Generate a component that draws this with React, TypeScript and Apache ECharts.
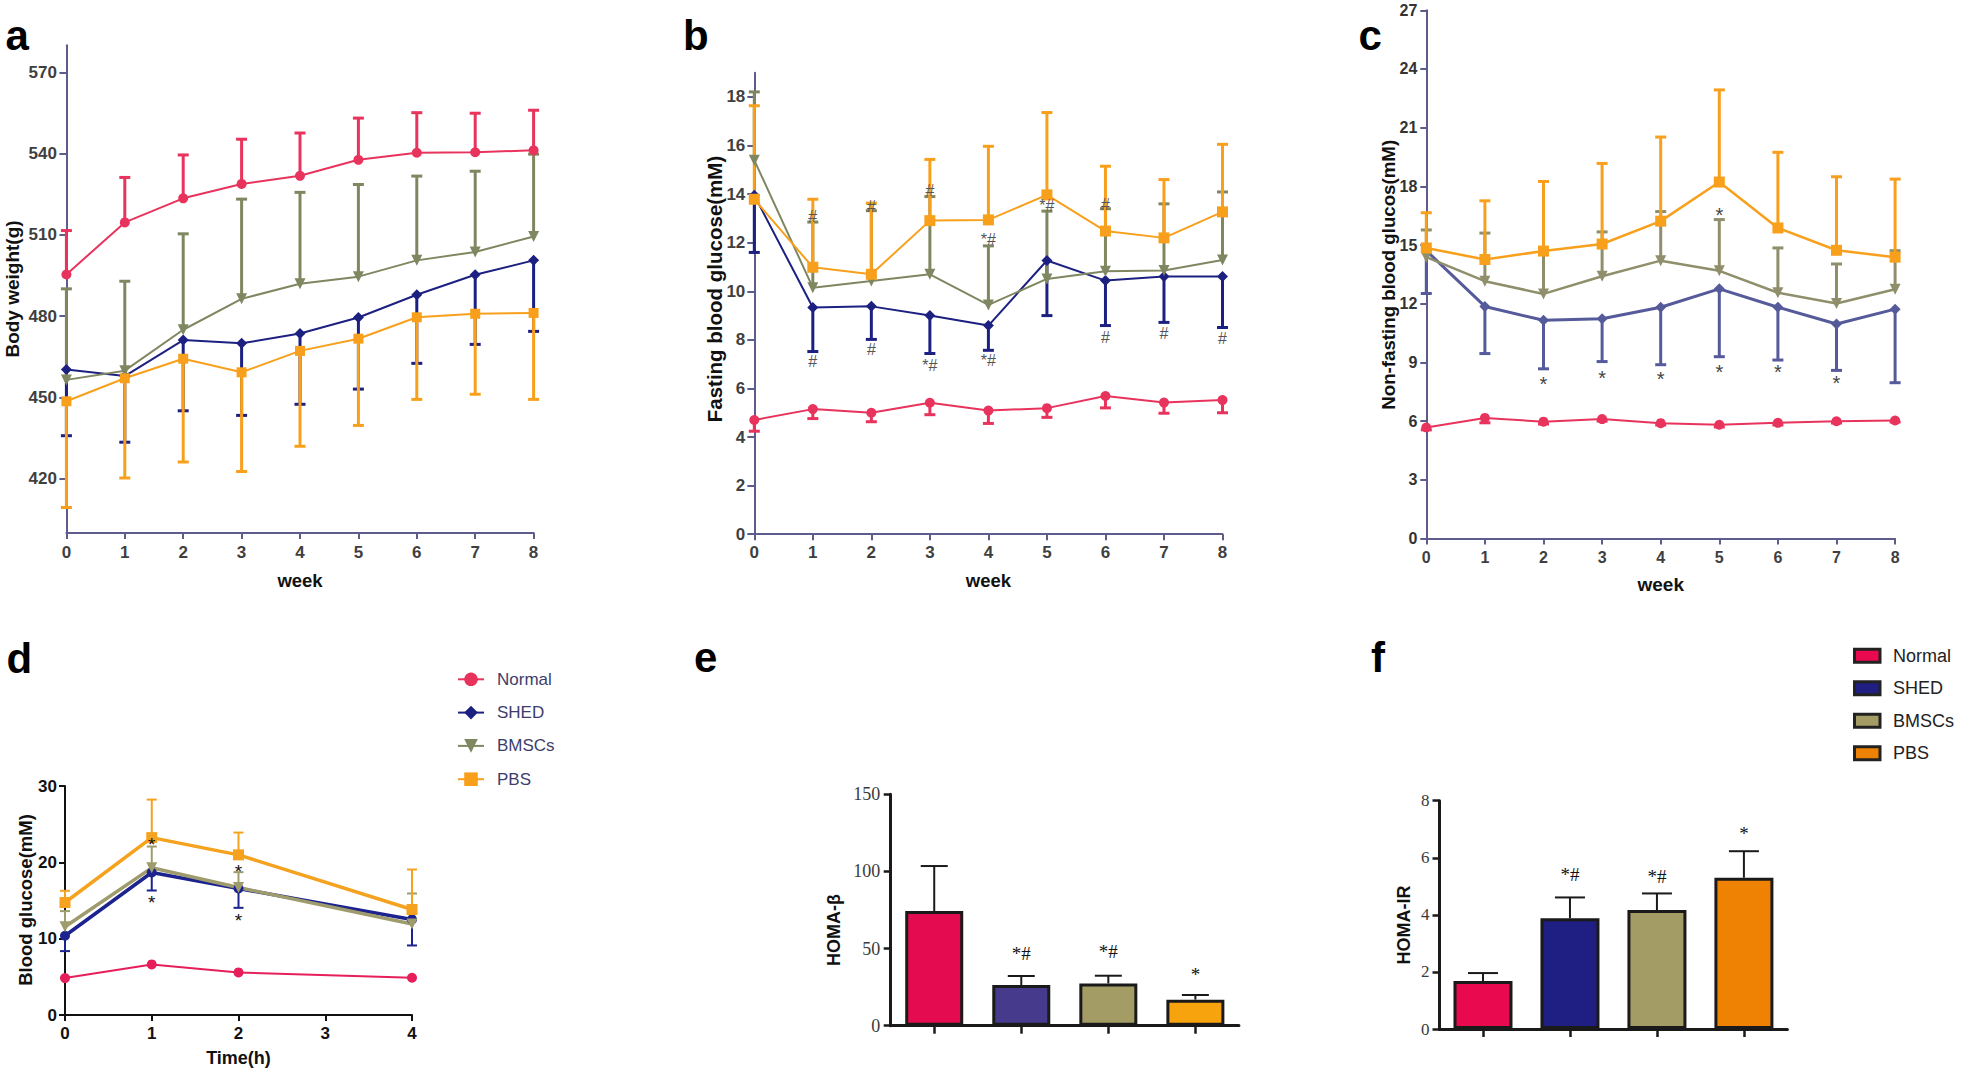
import React, { useEffect, useRef } from "react";
import * as echarts from "echarts";

const FONT = '"Liberation Sans", Arial, Helvetica, sans-serif';
const SERIF = '"Liberation Serif", "Times New Roman", serif';

const GROUPS = ["Normal", "SHED", "BMSCs", "PBS"];
const WEEKS = [0, 1, 2, 3, 4, 5, 6, 7, 8];
const HOURS = [0, 1, 2, 4];

// ---- Panel a: body weight (g)
const A_Y_TICKS = [420, 450, 480, 510, 540, 570];
const A_NORMAL = [495.4, 514.6, 523.5, 528.8, 531.8, 537.7, 540.3, 540.5, 541.2];
const A_NORMAL_ERR = [511.6, 531.2, 539.5, 545.3, 547.6, 553.1, 555.1, 554.9, 556.0];
const A_SHED = [460.3, 457.9, 471.2, 470.0, 473.6, 479.5, 487.9, 495.3, 500.6];
const A_SHED_ERR = [435.9, 433.5, 445.1, 443.4, 447.5, 453.1, 462.6, 469.6, 474.4];
const A_BMSC = [456.5, 459.9, 475.0, 486.4, 492.0, 494.6, 500.6, 503.7, 509.4];
const A_BMSC_ERR = [490.1, 492.9, 510.4, 523.2, 525.7, 528.6, 531.7, 533.5, 539.8];
const A_PBS = [448.6, 457.1, 464.3, 459.3, 467.2, 471.7, 479.6, 480.9, 481.2];
const A_PBS_ERR = [409.4, 420.3, 426.2, 422.7, 432.0, 439.7, 449.3, 451.2, 449.3];

// ---- Panel b: fasting blood glucose (mM)
const B_Y_TICKS = [0, 2, 4, 6, 8, 10, 12, 14, 16, 18];
const B_NORMAL = [4.7, 5.15, 5.0, 5.41, 5.09, 5.19, 5.69, 5.42, 5.52];
const B_NORMAL_ERR = [4.24, 4.76, 4.63, 4.92, 4.56, 4.81, 5.2, 4.98, 5.0];
const B_SHED = [13.95, 9.33, 9.38, 9.0, 8.59, 11.27, 10.44, 10.61, 10.61];
const B_SHED_ERR = [11.6, 7.52, 8.02, 7.44, 7.57, 9.0, 8.59, 8.72, 8.51];
const B_BMSC = [15.4, 10.15, 10.42, 10.7, 9.44, 10.51, 10.83, 10.86, 11.29];
const B_BMSC_ERR = [18.21, 12.85, 13.32, 13.9, 11.87, 13.3, 13.4, 13.6, 14.09];
const B_PBS = [13.79, 10.99, 10.7, 12.91, 12.94, 13.97, 12.48, 12.2, 13.27];
const B_PBS_ERR = [17.64, 13.79, 13.63, 15.43, 15.97, 17.36, 15.15, 14.6, 16.05];
const B_MARKS: [number, number, string][] = [
  [1, 13.1, "#"], [2, 13.49, "#"], [3, 14.17, "#"], [4, 12.15, "*#"], [5, 13.54, "*#"], [6, 13.57, "#"],
  [1, 7.12, "#"], [2, 7.6, "#"], [3, 6.94, "*#"], [4, 7.17, "*#"], [6, 8.1, "#"], [7, 8.26, "#"], [8, 8.07, "#"],
];

// ---- Panel c: non-fasting blood glucose (mM)
const C_NORMAL = [5.67, 6.16, 5.97, 6.1, 5.89, 5.81, 5.91, 5.99, 6.03];
const C_NORMAL_ERR = [5.55, 5.91, 5.85, 6.0, 5.8, 5.7, 5.8, 5.9, 5.95];
const C_SHED = [14.71, 11.86, 11.15, 11.23, 11.82, 12.76, 11.82, 10.96, 11.72];
const C_SHED_ERR = [12.52, 9.45, 8.67, 9.04, 8.88, 9.29, 9.12, 8.59, 7.96];
const C_BMSC = [14.38, 13.15, 12.5, 13.4, 14.2, 13.68, 12.56, 12.01, 12.74];
const C_BMSC_ERR = [15.77, 15.61, 14.77, 15.67, 16.71, 16.3, 14.85, 14.03, 14.71];
const C_PBS = [14.85, 14.26, 14.69, 15.05, 16.22, 18.22, 15.87, 14.73, 14.38];
const C_PBS_ERR = [16.65, 17.26, 18.25, 19.17, 20.52, 22.93, 19.74, 18.49, 18.37];
const C_MARKS: [number, number, string][] = [
  [5, 16.77, "*"], [2, 8.1, "*"], [3, 8.45, "*"], [4, 8.35, "*"], [5, 8.71, "*"], [6, 8.71, "*"], [7, 8.16, "*"],
];

// ---- Panel d: blood glucose over time (mM)
const D_NORMAL = [4.84, 6.63, 5.58, 4.88];
const D_SHED = [10.38, 18.67, 16.57, 12.52];
const D_SHED_ERR = [8.37, 16.31, 14.04, 9.11];
const D_BMSC = [11.56, 19.28, 16.7, 11.91];
const D_BMSC_ERR = [13.61, 22.07, 18.71, 15.92];
const D_PBS = [14.74, 23.24, 20.98, 13.82];
const D_PBS_ERR = [16.27, 28.22, 23.9, 19.06];
const D_MARKS: [number, number, string][] = [
  [1, 22.9, "*"], [1, 15.26, "*"], [2, 19.41, "*"], [2, 12.87, "*"],
];

// ---- Panel e: HOMA-beta
const E_VALUES = [74.3, 26.4, 27.4, 16.9];
const E_ERR = [103.5, 32.2, 32.4, 19.9];
const E_MARKS: [number, number, string][] = [[1, 46.9, "*#"], [2, 48.0, "*#"], [3, 36.1, "*"]];

// ---- Panel f: HOMA-IR
const F_VALUES = [1.68, 3.88, 4.17, 5.3];
const F_ERR = [1.96, 4.61, 4.75, 6.23];
const F_MARKS: [number, number, string][] = [[1, 5.4, "*#"], [2, 5.36, "*#"], [3, 7.0, "*"]];

// colours
const RED = "#e8335d";
const NAVY = "#1c2080";
const OLIVE = "#7e8760";
const ORANGE = "#f8a01c";
const C_SHED_COLOR = "#555a9b";
const C_OLIVE = "#8f8f6b";
const D_RED = "#e61e5a";
const D_NAVY = "#1d238e";
const D_OLIVE = "#9e9c6c";
const D_ORANGE = "#f5a21f";
const E_COLORS = ["#e50b50", "#463a8c", "#a39c65", "#f7a30d"];
const F_COLORS = ["#e8094f", "#1f1e82", "#a39c65", "#f08203"];
const AX = "#5e5c8c";
const LBL = "#3f3f3f";

function lineS(g: number, name: string, xs: number[], ys: number[], color: string, symbol: string, size: number, width: number, rotate = 0) {
  return {
    type: "line",
    name,
    xAxisIndex: g,
    yAxisIndex: g,
    data: xs.map((x, i) => [x, ys[i]]),
    symbol,
    symbolSize: size,
    symbolRotate: rotate,
    lineStyle: { color, width },
    itemStyle: { color },
    emphasis: { disabled: true },
    z: 3,
  };
}

function errS(g: number, xs: number[], means: number[], ends: number[], color: string, width: number, capW: number, z = 2) {
  return {
    type: "custom",
    xAxisIndex: g,
    yAxisIndex: g,
    z,
    silent: true,
    data: xs.map((x, i) => [x, means[i], ends[i]]),
    encode: { x: 0, y: [1, 2] },
    renderItem: (params: any, api: any) => {
      const x = api.value(0);
      const a = api.coord([x, api.value(1)]);
      const b = api.coord([x, api.value(2)]);
      return {
        type: "group",
        children: [
          { type: "line", shape: { x1: a[0], y1: a[1], x2: b[0], y2: b[1] }, style: { stroke: color, lineWidth: width } },
          { type: "line", shape: { x1: b[0] - capW / 2, y1: b[1], x2: b[0] + capW / 2, y2: b[1] }, style: { stroke: color, lineWidth: width } },
        ],
      };
    },
  };
}

function annS(g: number, items: [number, number, string][], color: string, size: number, family: string) {
  return {
    type: "custom",
    xAxisIndex: g,
    yAxisIndex: g,
    z: 6,
    silent: true,
    data: items.map((t) => [t[0], t[1]]),
    encode: { x: 0, y: 1 },
    renderItem: (params: any, api: any) => {
      const p = api.coord([api.value(0), api.value(1)]);
      const txt = items[params.dataIndex][2];
      return {
        type: "text",
        x: p[0],
        y: p[1] + (txt === "*" ? size * 0.22 : 0),
        style: { text: txt, fill: color, fontSize: size, fontFamily: family, align: "center", verticalAlign: "middle" },
      };
    },
  };
}

function xVal(g: number, max: number, fontSize: number, color: string, axisColor: string, name: string, nameGap: number, nameSize: number, margin: number) {
  return {
    type: "value",
    gridIndex: g,
    min: 0,
    max,
    interval: 1,
    axisLine: { show: true, onZero: false, lineStyle: { color: axisColor, width: 2 } },
    axisTick: { show: true, length: 6, lineStyle: { color: axisColor, width: 2 } },
    axisLabel: { color, fontSize, fontWeight: "bold", fontFamily: FONT, margin },
    splitLine: { show: false },
    name,
    nameLocation: "middle",
    nameGap,
    nameTextStyle: { color: "#111", fontSize: nameSize, fontWeight: "bold", fontFamily: FONT },
  };
}

function yVal(g: number, min: number, max: number, ticks: number[] | null, interval: number | null, opts: any) {
  const tickCfg: any = { show: true, length: opts.tickLen ?? 6, lineStyle: { color: opts.axisColor, width: opts.tickWidth ?? 2 } };
  const labelCfg: any = {
    color: opts.labelColor,
    fontSize: opts.fontSize,
    fontWeight: opts.fontWeight ?? "bold",
    fontFamily: opts.fontFamily ?? FONT,
    margin: opts.margin ?? 8,
  };
  if (ticks) {
    tickCfg.customValues = ticks;
    labelCfg.customValues = ticks;
  }
  const ax: any = {
    type: "value",
    gridIndex: g,
    min,
    max,
    axisLine: { show: true, onZero: false, lineStyle: { color: opts.axisColor, width: opts.lineWidth ?? 2 } },
    axisTick: tickCfg,
    axisLabel: labelCfg,
    splitLine: { show: false },
  };
  if (interval) ax.interval = interval;
  return ax;
}

function xCat(g: number) {
  return {
    type: "category",
    gridIndex: g,
    data: GROUPS,
    boundaryGap: true,
    axisLine: { show: true, lineStyle: { color: "#1a1a1a", width: 3 } },
    axisTick: { show: true, alignWithLabel: true, length: 8, lineStyle: { color: "#1a1a1a", width: 2.5 } },
    axisLabel: { show: false },
    splitLine: { show: false },
  };
}

function barS(g: number, values: number[], colors: string[], width: number) {
  return {
    type: "bar",
    xAxisIndex: g,
    yAxisIndex: g,
    barWidth: width,
    data: values.map((v, i) => ({ value: v, itemStyle: { color: colors[i] } })),
    itemStyle: { borderColor: "#1a1a1a", borderWidth: 3 },
    emphasis: { disabled: true },
    z: 2,
  };
}

// panel letters: text, x, y(center), size
const LETTERS: [string, number, number, number][] = [
  ["a", 5.5, 35.5, 42],
  ["b", 683, 35.5, 42],
  ["c", 1358.5, 35.5, 42],
  ["d", 6.5, 658.5, 42],
  ["e", 694, 657.5, 42],
  ["f", 1371, 657.5, 42],
];

// y-axis titles: text, center x, center y, size
const Y_TITLES: [string, number, number, number][] = [
  ["Body weight(g)", 12.5, 289, 19],
  ["Fasting blood glucose(mM)", 714, 289, 20.5],
  ["Non-fasting blood glucos(mM)", 1388.7, 274.8, 18.7],
  ["Blood glucose(mM)", 25, 900, 18.5],
  ["HOMA-β", 833.6, 930, 18],
  ["HOMA-IR", 1404, 925, 18],
];

function buildOption() {
  const graphic: any[] = LETTERS.map(([t, x, y, s]) => ({
    type: "text",
    x,
    y,
    style: { text: t, fontSize: s, fontWeight: "bold", fontFamily: FONT, fill: "#000", verticalAlign: "middle" },
  }));
  Y_TITLES.forEach(([t, x, y, s]) => {
    graphic.push({
      type: "text",
      x,
      y,
      rotation: Math.PI / 2,
      style: { text: t, fontSize: s, fontWeight: "bold", fontFamily: FONT, fill: "#111", align: "center", verticalAlign: "middle" },
    });
  });
  GROUPS.forEach((g, i) => {
    const cy = 655.7 + i * 32.5;
    graphic.push({
      type: "rect",
      shape: { x: 1854.5, y: cy - 6.5, width: 25.5, height: 13 },
      style: { fill: F_COLORS[i], stroke: "#222", lineWidth: 3 },
    });
    graphic.push({
      type: "text",
      x: 1893,
      y: cy,
      style: { text: g, fontSize: 18, fontFamily: FONT, fill: "#222", verticalAlign: "middle" },
    });
  });

  return {
    animation: false,
    backgroundColor: "#ffffff",
    grid: [
      { left: 66.4, top: 45.2, width: 467.2, height: 487.8 },
      { left: 754.3, top: 72.7, width: 468.2, height: 461.5 },
      { left: 1426.3, top: 10.3, width: 468.8, height: 528.1 },
      { left: 65, top: 786, width: 347, height: 229 },
      { left: 890.7, top: 794.3, width: 348.2, height: 231.4 },
      { left: 1439.5, top: 800.7, width: 347.9, height: 228.3 },
    ],
    xAxis: [
      xVal(0, 8, 17, LBL, AX, "week", 37.5, 18.5, 11),
      xVal(1, 8, 17, LBL, AX, "week", 36.5, 18.5, 10),
      xVal(2, 8, 16, LBL, AX, "week", 37, 19, 11),
      xVal(3, 4, 17, "#111", "#111", "Time(h)", 34, 18, 10),
      xCat(4),
      xCat(5),
    ],
    yAxis: [
      yVal(0, 400, 580, A_Y_TICKS, null, { axisColor: AX, labelColor: LBL, fontSize: 17, margin: 9.5, tickLen: 7 }),
      yVal(1, 0, 19, B_Y_TICKS, null, { axisColor: AX, labelColor: LBL, fontSize: 17, margin: 9, tickLen: 7 }),
      yVal(2, 0, 27, null, 3, { axisColor: AX, labelColor: "#333", fontSize: 16, margin: 9, tickLen: 6 }),
      yVal(3, 0, 30, null, 10, { axisColor: "#111", labelColor: "#111", fontSize: 17, margin: 8 }),
      yVal(4, 0, 150, null, 50, { axisColor: "#1a1a1a", labelColor: "#3a3a3a", fontSize: 18, fontWeight: "normal", fontFamily: SERIF, margin: 10.5, tickLen: 7, lineWidth: 3, tickWidth: 2.5 }),
      yVal(5, 0, 8, null, 2, { axisColor: "#1a1a1a", labelColor: "#3a3a3a", fontSize: 17, fontWeight: "normal", fontFamily: SERIF, margin: 10, tickLen: 7, lineWidth: 3, tickWidth: 2.5 }),
    ],
    legend: {
      orient: "vertical",
      left: 457,
      top: 670.8,
      padding: 0,
      itemWidth: 26,
      itemHeight: 17,
      itemGap: 16.3,
      selectedMode: false,
      data: GROUPS,
      textStyle: { color: "#3d3d6b", fontSize: 17, fontFamily: FONT, padding: [0, 0, 0, 8] },
    },
    graphic,
    series: [
      // a
      errS(0, WEEKS, A_NORMAL, A_NORMAL_ERR, RED, 3, 11),
      lineS(0, "Normal", WEEKS, A_NORMAL, RED, "circle", 10, 2),
      errS(0, WEEKS, A_SHED, A_SHED_ERR, NAVY, 3, 11),
      lineS(0, "SHED", WEEKS, A_SHED, NAVY, "diamond", 11, 2),
      errS(0, WEEKS, A_BMSC, A_BMSC_ERR, OLIVE, 3, 11),
      lineS(0, "BMSCs", WEEKS, A_BMSC, OLIVE, "triangle", 11, 2, 180),
      errS(0, WEEKS, A_PBS, A_PBS_ERR, ORANGE, 3, 11),
      lineS(0, "PBS", WEEKS, A_PBS, ORANGE, "rect", 10, 2),
      // b
      errS(1, WEEKS, B_NORMAL, B_NORMAL_ERR, RED, 3, 11),
      lineS(1, "Normal", WEEKS, B_NORMAL, RED, "circle", 10, 2),
      errS(1, WEEKS, B_SHED, B_SHED_ERR, NAVY, 3, 11),
      lineS(1, "SHED", WEEKS, B_SHED, NAVY, "diamond", 11, 2),
      errS(1, WEEKS, B_BMSC, B_BMSC_ERR, OLIVE, 3, 11),
      lineS(1, "BMSCs", WEEKS, B_BMSC, OLIVE, "triangle", 11, 2, 180),
      errS(1, WEEKS, B_PBS, B_PBS_ERR, ORANGE, 3, 11),
      lineS(1, "PBS", WEEKS, B_PBS, ORANGE, "rect", 11, 2),
      annS(1, B_MARKS, "#555", 16, FONT),
      // c
      errS(2, WEEKS, C_NORMAL, C_NORMAL_ERR, RED, 3, 11),
      lineS(2, "Normal", WEEKS, C_NORMAL, RED, "circle", 10, 2),
      errS(2, WEEKS, C_SHED, C_SHED_ERR, C_SHED_COLOR, 3, 11),
      lineS(2, "SHED", WEEKS, C_SHED, C_SHED_COLOR, "diamond", 11, 3),
      errS(2, WEEKS, C_BMSC, C_BMSC_ERR, C_OLIVE, 3, 11),
      lineS(2, "BMSCs", WEEKS, C_BMSC, C_OLIVE, "triangle", 11, 2.5, 180),
      errS(2, WEEKS, C_PBS, C_PBS_ERR, ORANGE, 3, 11),
      lineS(2, "PBS", WEEKS, C_PBS, ORANGE, "rect", 11, 2.5),
      annS(2, C_MARKS, "#444", 20, FONT),
      // d
      lineS(3, "Normal", HOURS, D_NORMAL, D_RED, "circle", 10, 2),
      errS(3, HOURS, D_SHED, D_SHED_ERR, D_NAVY, 2, 10),
      lineS(3, "SHED", HOURS, D_SHED, D_NAVY, "circle", 10, 3.5),
      errS(3, HOURS, D_BMSC, D_BMSC_ERR, D_OLIVE, 2, 10),
      lineS(3, "BMSCs", HOURS, D_BMSC, D_OLIVE, "triangle", 11, 3.5, 180),
      errS(3, HOURS, D_PBS, D_PBS_ERR, D_ORANGE, 2, 10),
      lineS(3, "PBS", HOURS, D_PBS, D_ORANGE, "rect", 11, 3.5),
      annS(3, D_MARKS, "#111", 19, FONT),
      // e
      barS(4, E_VALUES, E_COLORS, 58),
      errS(4, [0, 1, 2, 3], E_VALUES, E_ERR, "#1a1a1a", 2, 27, 3),
      annS(4, E_MARKS, "#111", 19, SERIF),
      // f
      barS(5, F_VALUES, F_COLORS, 59),
      errS(5, [0, 1, 2, 3], F_VALUES, F_ERR, "#1a1a1a", 2, 30, 3),
      annS(5, F_MARKS, "#111", 19, SERIF),
    ],
  };
}

export default function App() {
  const ref = useRef<HTMLDivElement>(null);
  useEffect(() => {
    if (!ref.current) return;
    const chart = echarts.init(ref.current, null, { renderer: "svg" });
    chart.setOption(buildOption() as any);
    return () => chart.dispose();
  }, []);
  return (
    <div
      ref={ref}
      style={{ position: "absolute", left: 0, top: 0, width: 1961, height: 1071, background: "#fff" }}
    />
  );
}
